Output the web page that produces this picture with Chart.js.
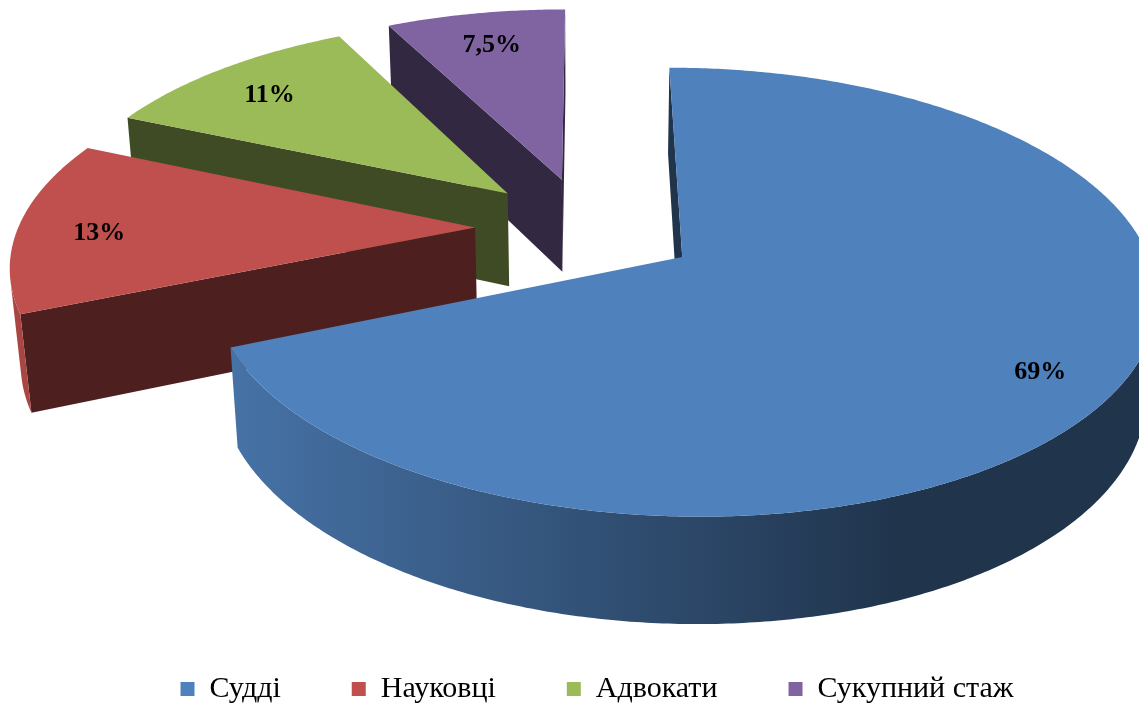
<!DOCTYPE html>
<html>
<head>
<meta charset="utf-8">
<script src="https://cdn.jsdelivr.net/npm/chart.js@4.4.1/dist/chart.umd.min.js"></script>
<style>
  html, body { margin: 0; padding: 0; background: #fff; }
  #stazhChart { display: block; }
</style>
</head>
<body>
<canvas id="stazhChart" width="1139" height="711"></canvas>
<script>
// stazhPie3d.js

const categories = ["Судді", "Науковці", "Адвокати", "Сукупний стаж"];
const shares = [69, 13, 11, 7.5];
const sliceColors = ["#4f81bd", "#c0504d", "#9bbb59", "#8064a2"];

// tilted pie view (screen px per unit radius, perspective)
const view = { cx: 587, cy: 228, scale: 457, tilt: 0.4595, dist: 5.8, explode: 0.245, depth: 0.237 };
const sinT = view.tilt;
const cosT = Math.sqrt(1 - sinT * sinT);
const camZ = view.dist * cosT;

function project(x, z, y) {
  const den = 1 - (z * cosT + y * sinT) / view.dist;
  return [view.cx + view.scale * x / den, view.cy + view.scale * (z * sinT - y * cosT) / den];
}

// does a vertical face at (px, pz) with normal (nx, nz) face the camera?
function facing(px, pz, nx, nz) {
  return -px * nx + (camZ - pz) * nz > 0;
}

function shade(hex, f) {
  const n = parseInt(hex.slice(1), 16);
  const r = Math.round(((n >> 16) & 255) * f);
  const g = Math.round(((n >> 8) & 255) * f);
  const b = Math.round((n & 255) * f);
  return `rgb(${r},${g},${b})`;
}

function poly(ctx, pts) {
  ctx.beginPath();
  ctx.moveTo(pts[0][0], pts[0][1]);
  for (let i = 1; i < pts.length; i++) ctx.lineTo(pts[i][0], pts[i][1]);
  ctx.closePath();
  ctx.fill();
}

function sliceGeometry(arc) {
  const { startAngle, endAngle } = arc.getProps(["startAngle", "endAngle"], true);
  const mid = (startAngle + endAngle) / 2;
  const ox = Math.cos(mid) * view.explode;
  const oz = Math.sin(mid) * view.explode;
  const steps = Math.max(2, Math.ceil((endAngle - startAngle) / 0.01));
  const rim = [];
  const angles = [];
  for (let i = 0; i <= steps; i++) {
    const a = startAngle + (endAngle - startAngle) * i / steps;
    angles.push(a);
    rim.push([ox + Math.cos(a), oz + Math.sin(a)]);
  }
  return { startAngle, endAngle, mid, ox, oz, rim, angles };
}

function drawSlice(ctx, arc, color) {
  const { startAngle, endAngle, ox, oz, rim, angles } = sliceGeometry(arc);
  const top = p => project(p[0], p[1], 0);
  const bot = p => project(p[0], p[1], -view.depth);
  const apex = [ox, oz];

  // cut faces (only those turned to the viewer)
  ctx.fillStyle = shade(color, 0.4);
  if (facing(ox, oz, Math.sin(startAngle), -Math.cos(startAngle))) {
    poly(ctx, [top(apex), top(rim[0]), bot(rim[0]), bot(apex)]);
  }
  if (facing(ox, oz, -Math.sin(endAngle), Math.cos(endAngle))) {
    const p = rim[rim.length - 1];
    poly(ctx, [top(apex), top(p), bot(p), bot(apex)]);
  }

  // outer wall, lit from the left; visible runs only
  const grad = ctx.createLinearGradient(235, 0, 900, 0);
  grad.addColorStop(0, shade(color, 0.88));
  grad.addColorStop(1, shade(color, 0.4));
  ctx.fillStyle = grad;
  let run = [];
  const flush = () => {
    if (run.length > 1) poly(ctx, run.map(top).concat(run.slice().reverse().map(bot)));
    run = [];
  };
  for (let i = 0; i < rim.length - 1; i++) {
    const a = (angles[i] + angles[i + 1]) / 2;
    const px = ox + Math.cos(a), pz = oz + Math.sin(a);
    if (facing(px, pz, Math.cos(a), Math.sin(a))) {
      if (!run.length) run.push(rim[i]);
      run.push(rim[i + 1]);
    } else {
      flush();
    }
  }
  flush();

  // top face
  ctx.fillStyle = color;
  poly(ctx, [top(apex)].concat(rim.map(top)));
}

const pie3d = {
  id: "pie3d",
  beforeDatasetsDraw(chart) {
    const ctx = chart.ctx;
    const meta = chart.getDatasetMeta(0);
    const ds = chart.data.datasets[0];

    // back to front
    const order = meta.data.map((arc, i) => i).sort((a, b) =>
      Math.sin(sliceGeometry(meta.data[a]).mid) - Math.sin(sliceGeometry(meta.data[b]).mid));

    ctx.save();
    order.forEach(i => drawSlice(ctx, meta.data[i], ds.backgroundColor[i]));

    // percent labels
    ctx.font = 'bold 26px "Liberation Serif", "Times New Roman", serif';
    ctx.fillStyle = "#000";
    ctx.textAlign = "center";
    ctx.textBaseline = "middle";
    meta.data.forEach((arc, i) => {
      const { mid, ox, oz } = sliceGeometry(arc);
      const p = project(ox + Math.cos(mid) * 0.83, oz + Math.sin(mid) * 0.83, 0);
      const text = String(ds.data[i]).replace(".", ",") + "%";
      ctx.fillText(text, p[0] + 3, p[1] + 7);
    });
    ctx.restore();
    return false;
  }
};

const ctx = document.getElementById("stazhChart").getContext("2d");

new Chart(ctx, {
  type: "pie",
  data: {
    labels: categories,
    datasets: [{
      data: shares,
      backgroundColor: sliceColors,
      borderWidth: 0
    }]
  },
  options: {
    responsive: false,
    animation: false,
    layout: { padding: { left: 55, bottom: -3 } },
    plugins: {
      tooltip: { enabled: false },
      legend: {
        position: "bottom",
        labels: {
          color: "#000",
          boxWidth: 14,
          boxHeight: 14,
          padding: 71,
          font: { family: '"Liberation Serif", "Times New Roman", serif', size: 30 }
        }
      }
    }
  },
  plugins: [pie3d]
});
</script>
</body>
</html>
